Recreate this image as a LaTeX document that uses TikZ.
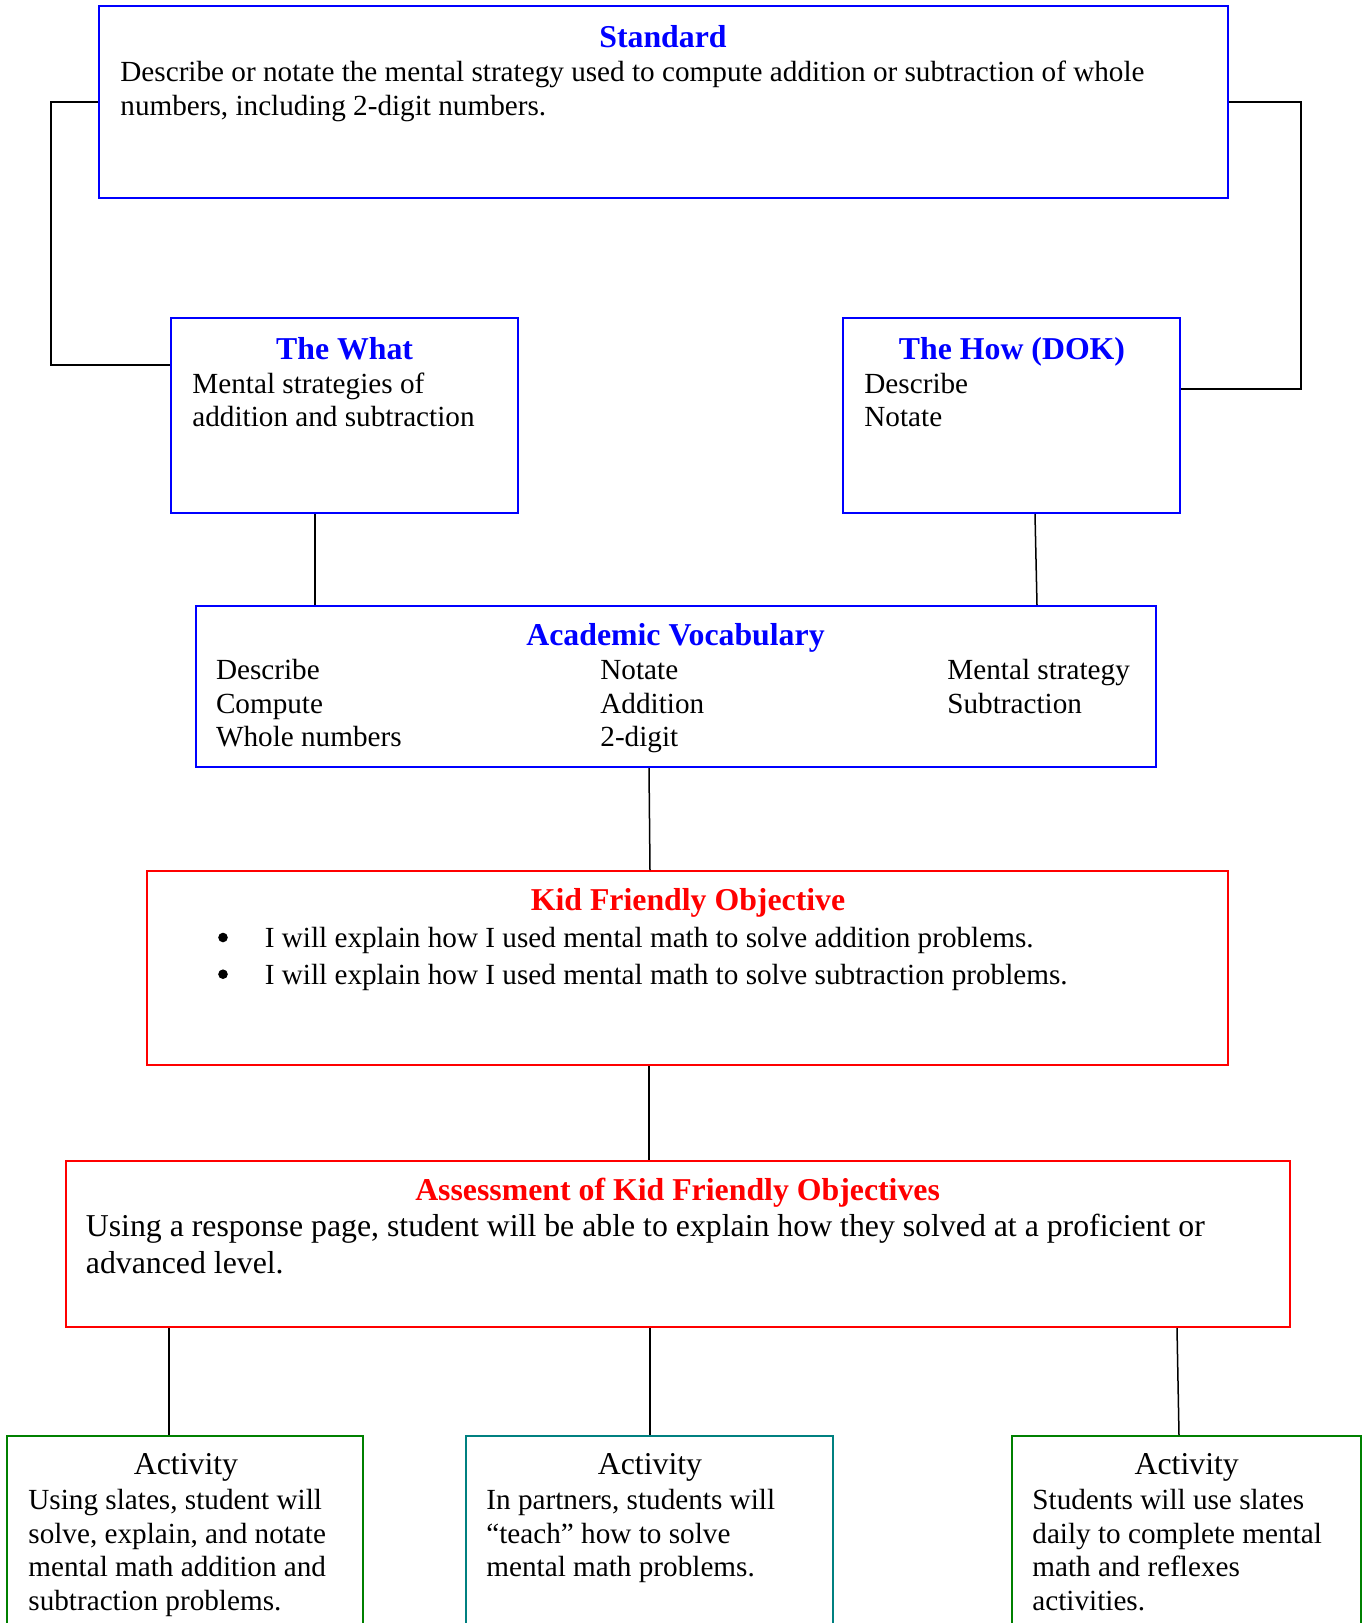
\documentclass[tikz,border=0pt]{standalone}
\usepackage{fontspec}
\setmainfont{Liberation Serif}
\usetikzlibrary{fit,calc}
\definecolor{wblue}{RGB}{0,0,255}
\definecolor{wred}{RGB}{255,0,0}
\definecolor{wgreen}{RGB}{0,128,0}
\definecolor{wteal}{RGB}{0,128,128}
\newcommand{\bodyfont}{\fontsize{14.6}{16.75}\selectfont}
\newcommand{\headfont}{\fontsize{15.9}{18.3}\selectfont}
\begin{document}
\begin{tikzpicture}[x=0.5pt,y=-0.5pt,
  boxbase/.style={line width=1pt, inner sep=0pt},
  bbox/.style={boxbase, draw=wblue},
  rbox/.style={boxbase, draw=wred},
  gbox/.style={boxbase, draw=wgreen},
  tbox/.style={boxbase, draw=wteal},
  conn/.style={draw=black, line width=0.75pt},
  title/.style={font=\headfont\bfseries, anchor=base, inner sep=0pt},
  acttitle/.style={font=\headfont, anchor=base, inner sep=0pt},
  body/.style={font=\bodyfont, anchor=base west, align=left, inner sep=0pt},
  bigbody/.style={font=\fontsize{15.9}{18.3}\selectfont, anchor=base west, align=left, inner sep=0pt},
  bul/.style={circle, fill=black, inner sep=0pt, minimum size=4.8pt}]
\useasboundingbox (0,0) rectangle (1368,1623);
\clip (0,0) rectangle (1368,1623);

% boxes
\node[bbox, fit={(99,6) (1228,198)}] (std) {};
\node[bbox, fit={(171,318) (518,513)}] (what) {};
\node[bbox, fit={(843,318) (1180,513)}] (how) {};
\node[bbox, fit={(196,606) (1156,767)}] (voc) {};
\node[rbox, fit={(147,871) (1228,1065)}] (kfo) {};
\node[rbox, fit={(66,1161) (1290,1327)}] (ass) {};
\node[gbox, fit={(7,1436) (363,1700)}] (actA) {};
\node[tbox, fit={(466,1436) (833,1700)}] (actB) {};
\node[gbox, fit={(1012,1436) (1361,1700)}] (actC) {};

% texts (multi-line nodes are placed by the baseline of their last line)
\node[title, text=wblue] (stdT) at (663,47.7) {Standard};
\node[body] (stdB) at (120,115) {Describe or notate the mental strategy used to compute addition or subtraction of whole\\numbers, including 2-digit numbers.};

\node[title, text=wblue] (whatT) at (344.6,359) {The What};
\node[body] (whatB) at (192,426.5) {Mental strategies of\\addition and subtraction};

\node[title, text=wblue] (howT) at (1012,359) {The How (DOK)};
\node[body] (howB) at (864,426.5) {Describe\\Notate};

\node[title, text=wblue] (vocT) at (675.5,645.7) {Academic Vocabulary};
\node[body] (vocA) at (215.6,746.7) {Describe\\Compute\\Whole numbers};
\node[body] (vocB) at (600,746.7) {Notate\\Addition\\2-digit};
\node[body] (vocC) at (947,713.2) {Mental strategy\\Subtraction};

\node[title, text=wred] (kfoT) at (688,910.7) {Kid Friendly Objective};
\node[bul] (b1) at (223,937.5) {};
\node[body] (k1) at (264.4,947.3) {I will explain how I used mental math to solve addition problems.};
\node[bul] (b2) at (223,974.2) {};
\node[body] (k2) at (264.4,984) {I will explain how I used mental math to solve subtraction problems.};

\node[title, text=wred] (assT) at (677.6,1200.7) {Assessment of Kid Friendly Objectives};
\node[bigbody] (assB) at (85.5,1273.3) {Using a response page, student will be able to explain how they solved at a proficient or\\advanced level.};

\node[acttitle] (aT) at (186,1474) {Activity};
\node[body] (aB) at (28,1610) {Using slates, student will\\solve, explain, and notate\\mental math addition and\\subtraction problems.};
\node[acttitle] (bT) at (650,1474) {Activity};
\node[body] (bB) at (486,1576.7) {In partners, students will\\“teach” how to solve\\mental math problems.};
\node[acttitle] (cT) at (1186.7,1474) {Activity};
\node[body] (cB) at (1032,1610) {Students will use slates\\daily to complete mental\\math and reflexes\\activities.};

% connectors
\draw[conn] (std.west) -- ++(-47,0) |- ($(what.north west)+(0,48)$);
\draw[conn] (std.east) -- ++(72,0) |- ($(how.north east)+(0,72)$);
\draw[conn] ($(what.south west)+(145,0)$) -- ($(voc.north west)+(120,0)$);
\draw[conn] ($(how.south west)+(193,0)$) -- ($(voc.north west)+(842,0)$);
\draw[conn] ($(voc.south west)+(454,0)$) -- ($(kfo.north west)+(504,0)$);
\draw[conn] ($(kfo.south west)+(503,0)$) -- ($(ass.north west)+(584,0)$);
\draw[conn] ($(ass.south west)+(104,0)$) -- ($(actA.north west)+(163,0)$);
\draw[conn] ($(ass.south west)+(585,0)$) -- ($(actB.north west)+(185,0)$);
\draw[conn] ($(ass.south west)+(1112,0)$) -- ($(actC.north west)+(168,0)$);
\end{tikzpicture}
\end{document}
